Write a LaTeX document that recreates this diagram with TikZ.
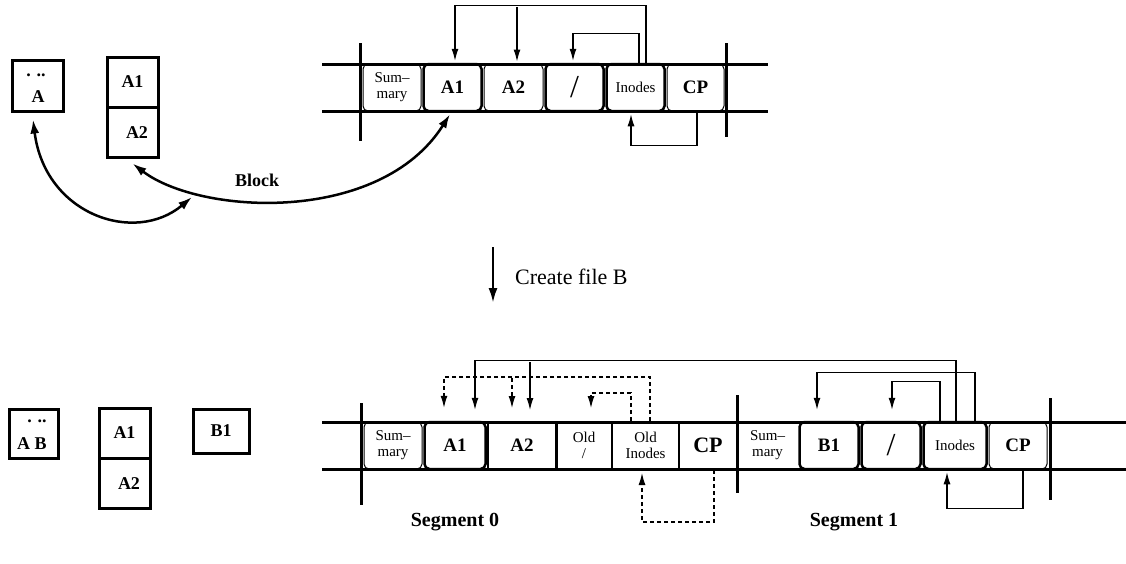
\documentclass[tikz,border=0pt]{standalone}
\usepackage{fontspec}
\setmainfont{Liberation Serif}
\usetikzlibrary{arrows.meta}
\tikzset{
  segline/.style={line width=3pt},
  segbar/.style={line width=3pt},
  cellbase/.style={inner sep=0pt, minimum height=47pt, align=center},
  cellthin/.style={cellbase, draw, rounded corners=5pt, line width=1pt},
  cellthick/.style={cellbase, draw, rounded corners=5pt, line width=2.5pt},
  cellsq/.style={cellbase, draw, line width=2pt},
  cellnone/.style={cellbase},
  smalltxt/.style={font=\fontsize{15}{16}\selectfont},
  boldtxt/.style={font=\fontsize{19}{19}\selectfont\bfseries},
  slashtxt/.style={font=\fontsize{32}{32}\selectfont},
  arr/.style={line width=1.2pt, -{Latex[length=12pt,width=7pt]}},
  darr/.style={arr, dash pattern=on 4pt off 3pt},
  curv/.style={line width=2.5pt, {Latex[length=14pt,width=9pt]}-{Latex[length=14pt,width=9pt]}},
  bigarr/.style={line width=2.5pt, -{Latex[length=15pt,width=9pt]}},
  dirbox/.style={draw, line width=3pt, inner sep=0pt},
  lbl/.style={font=\fontsize{18}{18}\selectfont\bfseries, inner sep=0pt},
}
\begin{document}
\begin{tikzpicture}[x=1pt,y=-1pt]
\useasboundingbox (0,0) rectangle (1126,563);

% ---------- top: left boxes ----------
\node[dirbox, minimum width=51pt, minimum height=51pt] (tDir) at (37.5,85.5) {};
\node[lbl] at (36,75) {. ..};
\node[lbl] at (38,97) {A};
\node[dirbox, minimum width=51pt, minimum height=50pt, lbl] (tF1) at (132.5,82) {A1};
\node[dirbox, minimum width=51pt, minimum height=50pt] (tF2) at (132.5,132) {};
\node[lbl] at (137,133) {A2};

% ---------- top segment ----------
\node[cellthin, minimum width=58pt, smalltxt] (tSum) at (392,87.5) {Sum--\\mary};
\node[cellthick, minimum width=58pt, boldtxt] (tA1) at (452.5,87.5) {A1};
\node[cellthin, minimum width=59pt, boldtxt] (tA2) at (513.5,87.5) {A2};
\node[cellthick, minimum width=58pt, slashtxt] (tRoot) at (574.5,87.5) {/};
\node[cellthick, minimum width=58pt, smalltxt] (tIn) at (635.5,87.5) {Inodes};
\node[cellthin, minimum width=57pt, boldtxt] (tCP) at (695.5,87.5) {CP};

\draw[segline] (322,64) -- (768,64);
\draw[segline] (322,111) -- (768,111);
\draw[segbar] (360,43) -- (360,141);
\draw[segbar] (726,43) -- (726,137);

\draw[arr] ([xshift=10.5pt]tIn.north) -- ++(0,-57) -| ([xshift=2.5pt,yshift=2pt]tA1.north);
\coordinate (tj) at (517,7);
\draw[arr] (tj) -- ([xshift=3.5pt,yshift=2pt]tA2.north);
\draw[arr] ([xshift=3.5pt]tIn.north) -- ++(0,-29) -| ([xshift=-1.5pt,yshift=2pt]tRoot.north);
\draw[arr] ([xshift=1.5pt]tCP.south) -- ++(0,34) -| ([xshift=-4.5pt,yshift=-2pt]tIn.south);

% curves
\coordinate (c1end) at (192,197);
\draw[curv] ([xshift=-4.5pt,yshift=-7pt]tDir.south) .. controls (45,215) and (135,245) .. (c1end);
\draw[curv] ([yshift=-5pt]tF2.south) .. controls (200,215) and (380,225) .. ([xshift=-2.5pt,yshift=-2pt]tA1.south);
\node[lbl] (blk) at (257,180) {Block};

% ---------- create file B ----------
\coordinate (cfa) at (493,247);
\coordinate (cfb) at (493,303);
\draw[bigarr] (cfa) -- (cfb);
\node[anchor=west, font=\fontsize{22}{22}\selectfont, inner sep=0pt] (cft) at (515,277) {Create file B};

% ---------- bottom: left boxes ----------
\node[dirbox, minimum width=49pt, minimum height=49pt] (bDir) at (33.5,433.5) {};
\node[lbl] at (37,421) {. ..};
\node[lbl] at (32,444) {A B};
\node[dirbox, minimum width=51pt, minimum height=50pt, lbl] (bF1) at (124.5,433) {A1};
\node[dirbox, minimum width=51pt, minimum height=50pt] (bF2) at (124.5,483) {};
\node[lbl] at (129,484) {A2};
\node[dirbox, minimum width=56pt, minimum height=44pt, lbl] (bB1) at (221,431) {B1};

% ---------- bottom segments ----------
\node[cellthin, minimum width=58pt, smalltxt] (bSum0) at (393,445.5) {Sum--\\mary};
\node[cellthick, minimum width=61pt, boldtxt] (bA1) at (455,445.5) {A1};
\node[cellsq, minimum width=69pt, boldtxt] (bA2) at (522,445.5) {A2};
\node[cellsq, minimum width=56pt, smalltxt] (bOldRoot) at (584,445.5) {Old\\/};
\node[cellsq, minimum width=67pt, smalltxt] (bOldIn) at (645.5,445.5) {Old\\Inodes};
\node[cellsq, minimum width=58pt, font=\fontsize{22}{22}\selectfont\bfseries] (bCP0) at (708,445.5) {CP};

\node[cellnone, minimum width=61pt, smalltxt] (bSum1) at (767.5,445.5) {Sum--\\mary};
\node[cellthick, minimum width=59pt, boldtxt] (bBB1) at (829,445.5) {B1};
\node[cellthick, minimum width=59pt, slashtxt] (bRoot1) at (891,445.5) {/};
\node[cellthick, minimum width=63pt, smalltxt] (bIn1) at (955,445.5) {Inodes};
\node[cellthin, minimum width=58pt, boldtxt] (bCP1) at (1018,445.5) {CP};

\draw[segline] (322,422) -- (1126,422);
\draw[segline] (322,469) -- (1126,469);
\draw[segbar] (361,403) -- (361,505);
\draw[segbar] (737,395) -- (737,493);
\draw[segbar] (1050,398) -- (1050,500);

% solid arrows
\draw[arr] ([xshift=1pt]bIn1.north) -- ++(0,-60) -| ([xshift=20pt,yshift=11pt]bA1.north);
\coordinate (bj1) at (530,362);
\draw[arr] (bj1) -- ([xshift=8pt,yshift=11pt]bA2.north);
\draw[arr] ([xshift=20pt]bIn1.north) -- ++(0,-48) -| ([xshift=-12pt,yshift=11pt]bBB1.north);
\draw[arr] ([xshift=-15pt]bIn1.north) -- ++(0,-39) -| ([xshift=1pt,yshift=11pt]bRoot1.north);
\draw[arr] ([xshift=5pt]bCP1.south) -- ++(0,39) -| ([xshift=-8pt,yshift=-2pt]bIn1.south);

% dashed arrows
\draw[darr] ([xshift=4.5pt]bOldIn.north) -- ++(0,-44) -| ([xshift=-11pt,yshift=13pt]bA1.north);
\coordinate (bj2) at (512,378);
\draw[darr] (bj2) -- ([xshift=-10pt,yshift=13pt]bA2.north);
\draw[darr] ([xshift=-14.5pt]bOldIn.north) -- ++(0,-28) -| ([xshift=7pt,yshift=13pt]bOldRoot.north);
\draw[darr] ([xshift=6pt]bCP0.south) -- ++(0,52) -| ([xshift=-3.5pt,yshift=-3pt]bOldIn.south);

% segment labels
\node[font=\fontsize{20}{20}\selectfont\bfseries] (seg0) at (455,522) {Segment 0};
\node[font=\fontsize{20}{20}\selectfont\bfseries] (seg1) at (854,522) {Segment 1};
\end{tikzpicture}
\end{document}
